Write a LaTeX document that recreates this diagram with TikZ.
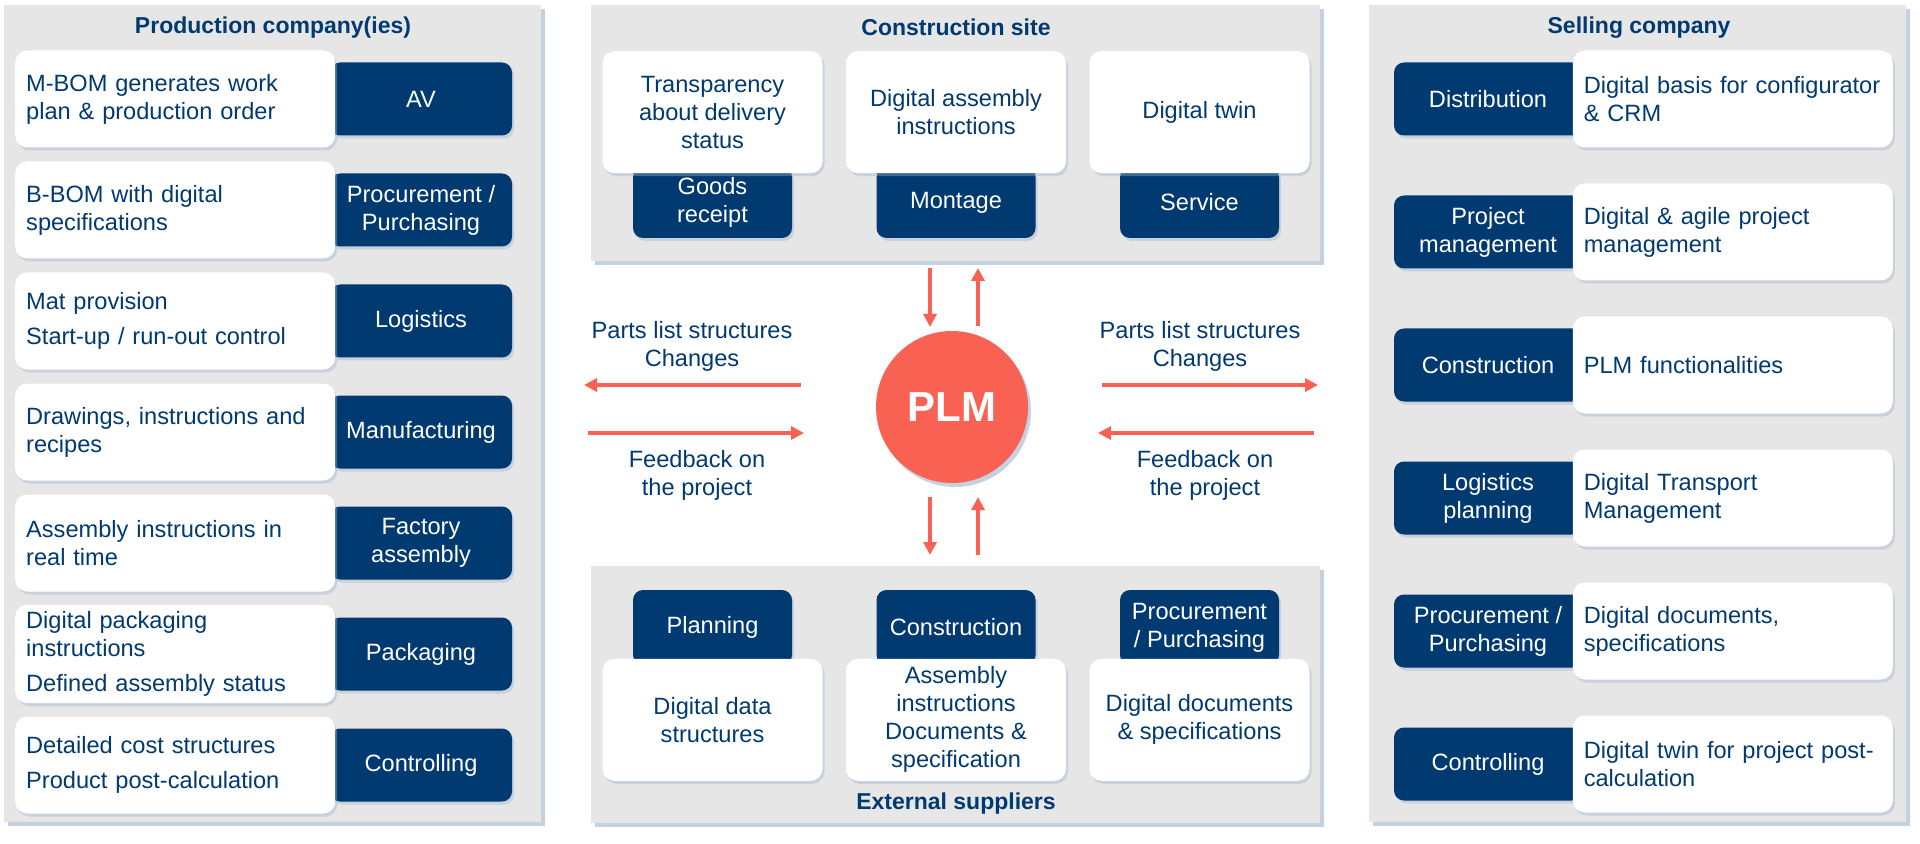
\documentclass[tikz,border=0pt]{standalone}
\usepackage{fontspec}
\setmainfont{Liberation Sans}
\usetikzlibrary{shapes.geometric, arrows.meta, positioning, calc, shadows}

\definecolor{plmnavy}{HTML}{003A70}
\definecolor{plmred}{HTML}{F96152}
\definecolor{panelgray}{HTML}{E6E6E7}
\definecolor{shadowblue}{HTML}{9DB2CC}

\tikzset{
  every node/.style={font=\fontsize{11.8}{14}\selectfont},
  panel/.style={fill=panelgray, inner sep=0pt, minimum width=268.5pt,
    drop shadow={shadow xshift=2pt, shadow yshift=-2pt, fill=shadowblue, opacity=0.6}},
  head/.style={text=plmnavy, font=\fontsize{11.5}{14}\selectfont\bfseries},
  darkbox/.style={fill=plmnavy, text=white, rounded corners=5pt, align=center, inner sep=0pt,
    minimum height=36.5pt,
    drop shadow={shadow xshift=1pt, shadow yshift=-1.5pt, fill=shadowblue, opacity=0.4}},
  lightbox/.style={fill=white, text=plmnavy, rounded corners=6pt,
    drop shadow={shadow xshift=1pt, shadow yshift=-1.5pt, fill=shadowblue, opacity=0.4}},
  sidebox/.style={lightbox, text width=149pt, inner xsep=5.5pt, minimum height=48.5pt, align=left},
  midbox/.style={lightbox, minimum width=110pt, minimum height=61pt, inner sep=0pt, align=center},
  note/.style={text=plmnavy, align=center},
  flow/.style={draw=plmred, line width=2pt, -{Triangle[length=6.5pt, width=6.5pt]}}
}

\begin{document}
\begin{tikzpicture}[x=0.5pt, y=-0.5pt]
\useasboundingbox (0,0) rectangle (1920,844);
% Panels
\node[panel, minimum height=408.5pt] (prod) at (272.5,413.5) {};
\node[panel, minimum width=364.5pt, minimum height=128pt] (site) at (955.5,133) {};
\node[panel, minimum width=364.5pt, minimum height=128.5pt] (supp) at (955.5,694.5) {};
\node[panel, minimum height=408.5pt] (sell) at (1637.5,413.5) {};
\node[head] (prodhead) at (273,28) {Production company(ies)};
\node[head] (sitehead) at (956,27) {Construction site};
\node[head] (supphead) at (956,804) {External suppliers};
\node[head] (sellhead) at (1639,28) {Selling company};

% Production company(ies)
\node[darkbox, minimum width=91pt] (av) at (421,99) {AV};
\node[sidebox, left=-3pt of av] (avtxt) {M-BOM generates work\\plan \& production order};
\node[darkbox, minimum width=91pt] (proc) at (421,210) {Procurement /\\Purchasing};
\node[sidebox, left=-3pt of proc] (proctxt) {B-BOM with digital\\specifications};
\node[darkbox, minimum width=91pt] (logi) at (421,321) {Logistics};
\node[sidebox, left=-3pt of logi] (logitxt) {Mat provision\\[3.5pt]Start-up / run-out control};
\node[darkbox, minimum width=91pt] (manu) at (421,432) {Manufacturing};
\node[sidebox, left=-3pt of manu] (manutxt) {Drawings, instructions and\\recipes};
\node[darkbox, minimum width=91pt] (fact) at (421,543) {Factory\\assembly};
\node[sidebox, left=-3pt of fact] (facttxt) {Assembly instructions in\\real time};
\node[darkbox, minimum width=91pt] (pack) at (421,654) {Packaging};
\node[sidebox, left=-3pt of pack] (packtxt) {Digital packaging\\instructions\\[3.5pt]Defined assembly status};
\node[darkbox, minimum width=91pt] (ctrl) at (421,765) {Controlling};
\node[sidebox, left=-3pt of ctrl] (ctrltxt) {Detailed cost structures\\[3.5pt]Product post-calculation};

% Selling company
\node[darkbox, minimum width=94pt] (dist) at (1488,99) {Distribution};
\node[sidebox, right=-5pt of dist] (disttxt) {Digital basis for configurator\\\& CRM};
\node[darkbox, minimum width=94pt] (proj) at (1488,232) {Project\\management};
\node[sidebox, right=-5pt of proj] (projtxt) {Digital \& agile project\\management};
\node[darkbox, minimum width=94pt] (cons) at (1488,365) {Construction};
\node[sidebox, right=-5pt of cons] (constxt) {PLM functionalities};
\node[darkbox, minimum width=94pt] (lplan) at (1488,498) {Logistics\\planning};
\node[sidebox, right=-5pt of lplan] (lplantxt) {Digital Transport\\Management};
\node[darkbox, minimum width=94pt] (sproc) at (1488,631) {Procurement /\\Purchasing};
\node[sidebox, right=-5pt of sproc] (sproctxt) {Digital documents,\\specifications};
\node[darkbox, minimum width=94pt] (sctrl) at (1488,764) {Controlling};
\node[sidebox, right=-5pt of sctrl] (sctrltxt) {Digital twin for project post-\\calculation};

% Construction site
\node[darkbox, minimum width=79.5pt, minimum height=35.5pt] (goods) at (712.5,202.5) {Goods\\receipt};
\node[midbox, above=-3.5pt of goods] (goodstxt) {Transparency\\about delivery\\status};
\node[darkbox, minimum width=79.5pt, minimum height=35.5pt] (mont) at (956,202.5) {Montage};
\node[midbox, above=-3.5pt of mont] (monttxt) {Digital assembly\\instructions};
\node[darkbox, minimum width=79.5pt, minimum height=35.5pt] (serv) at (1199.5,202.5) {Service};
\node[midbox, above=-3.5pt of serv] (servtxt) {Digital twin};

% External suppliers
\node[darkbox, minimum width=79.5pt, minimum height=37.5pt] (plan) at (712.5,627.5) {Planning};
\node[midbox, below=-3.5pt of plan] (plantxt) {Digital data\\structures};
\node[darkbox, minimum width=79.5pt, minimum height=37.5pt] (econs) at (956,627.5) {Construction};
\node[midbox, below=-3.5pt of econs] (econstxt) {Assembly\\instructions\\Documents \&\\specification};
\node[darkbox, minimum width=79.5pt, minimum height=37.5pt] (eproc) at (1199.5,627.5) {Procurement\\/ Purchasing};
\node[midbox, below=-3.5pt of eproc] (eproctxt) {Digital documents\\\& specifications};

% PLM
\node[circle, fill=plmred, minimum size=76pt, inner sep=0pt, text=white,
  font=\fontsize{21}{24}\selectfont\bfseries,
  drop shadow={shadow xshift=1.5pt, shadow yshift=-2pt, fill=shadowblue, opacity=0.6}] (plm) at (952,407) {PLM};

% Flows
\draw[flow] ($(plm)+(-22,-139)$) -- ($(plm)+(-22,-80)$);
\draw[flow] ($(plm)+(26,-81)$) -- ($(plm)+(26,-139)$);
\draw[flow] ($(plm)+(-22,90)$) -- ($(plm)+(-22,148)$);
\draw[flow] ($(plm)+(26,148)$) -- ($(plm)+(26,90)$);
\draw[flow] ($(plm)+(-151,-22)$) -- ($(plm)+(-368,-22)$);
\draw[flow] ($(plm)+(-364,26)$) -- ($(plm)+(-148,26)$);
\draw[flow] ($(plm)+(150,-22)$) -- ($(plm)+(366,-22)$);
\draw[flow] ($(plm)+(362,26)$) -- ($(plm)+(146,26)$);
\node[note] (lout) at (692,346) {Parts list structures\\Changes};
\node[note] (lin) at (697,475) {Feedback on\\the project};
\node[note] (rout) at (1200,346) {Parts list structures\\Changes};
\node[note] (rin) at (1205,475) {Feedback on\\the project};
\end{tikzpicture}
\end{document}
